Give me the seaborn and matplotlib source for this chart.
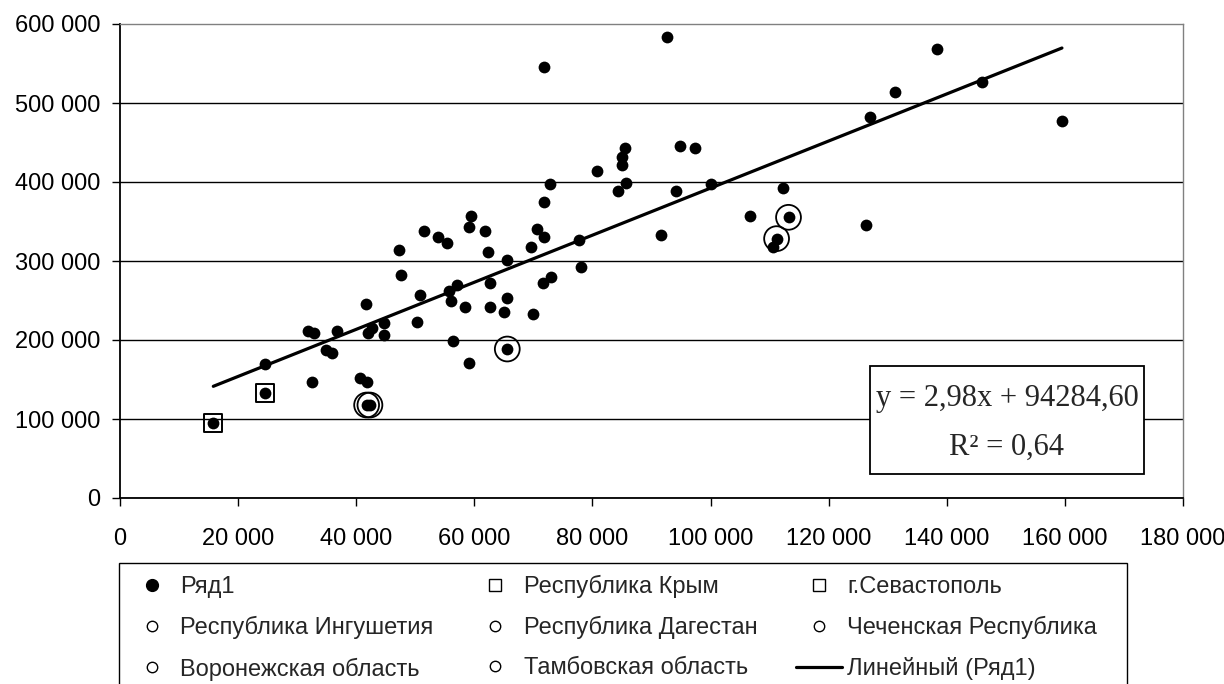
import numpy as np
import pandas as pd
import matplotlib
matplotlib.use("Agg")
import matplotlib.pyplot as plt
import seaborn as sns
from matplotlib.lines import Line2D
from matplotlib.patches import Rectangle
from matplotlib.ticker import FuncFormatter

# ---------------- data ----------------
row1_x = [15800, 24600, 24600, 31830, 32850, 32510, 34880, 35900, 36790, 40640,
          41770, 41650, 41990, 42670, 44700, 44700, 41760, 42320, 47300, 47640,
          50220, 50800, 51470, 53840, 55420, 55760, 56100, 56440, 57110, 58480,
          59020, 59040, 59380, 61740, 62310, 62650, 62650, 65020, 65580, 65580,
          65580, 69530, 69870, 70550, 71550, 71790, 71790, 71790, 72800, 72910,
          77770, 78000, 80700, 84320, 85000, 85000, 85560, 85670, 91550, 92560,
          94140, 94820, 97410, 100000, 106670, 110500, 111180, 112190, 113200, 126310,
          126990, 131160, 138380, 145950, 159500]
row1_y = [95300, 132500, 169200, 211000, 208500, 146800, 187300, 183900, 211400, 152300,
          146800, 245200, 208500, 215600, 221100, 205900, 117700, 117700, 313900, 281900,
          223200, 257400, 338400, 330400, 323200, 262400, 250000, 198300, 269600, 242200,
          171300, 342600, 357000, 338400, 311000, 271700, 242200, 235400, 253600, 301700,
          188600, 318100, 232900, 340100, 271700, 330400, 374700, 546000, 397000, 279400,
          326200, 292000, 414000, 389000, 421100, 432000, 443400, 399200, 332900, 583100,
          389000, 446000, 443400, 397000, 357400, 317300, 328300, 392000, 355300, 345200,
          482700, 514300, 567900, 527000, 477600]

crimea_x, crimea_y = [24600], [132500]
sevastopol_x, sevastopol_y = [15800], [95300]
ingush_x, ingush_y = [41760], [117700]
dagestan_x, dagestan_y = [65580], [188600]
chechnya_x, chechnya_y = [42320], [117700]
voronezh_x, voronezh_y = [111180], [328300]
tambov_x, tambov_y = [113200], [355300]

trend_slope = 2.98
trend_intercept = 94284.60
trend_r2 = 0.64

x_ticks = [0, 20000, 40000, 60000, 80000, 100000, 120000, 140000, 160000, 180000]
y_ticks = [0, 100000, 200000, 300000, 400000, 500000, 600000]

labels = {
    "row1": "Ряд1",
    "crimea": "Республика Крым",
    "sevastopol": "г.Севастополь",
    "ingush": "Республика Ингушетия",
    "dagestan": "Республика Дагестан",
    "chechnya": "Чеченская Республика",
    "voronezh": "Воронежская область",
    "tambov": "Тамбовская область",
    "trend": "Линейный (Ряд1)",
}

# ---------------- style ----------------
sns.set_theme(style="white")
plt.rcParams["font.family"] = ["Liberation Sans", "DejaVu Sans"]

W, H = 1224, 684
fig = plt.figure(figsize=(W / 100, H / 100), dpi=100)
ax = fig.add_axes([120 / W, 1 - 498 / H, 1063 / W, 474 / H])

df_main = pd.DataFrame({"x": row1_x, "y": row1_y})

# trend line over the data range
tx = np.array([min(row1_x), max(row1_x)], dtype=float)
ty = trend_slope * tx + trend_intercept
sns.lineplot(x=tx, y=ty, ax=ax, color="black", linewidth=2.3, zorder=3)

sns.scatterplot(data=df_main, x="x", y="y", ax=ax, color="black", s=72,
                linewidth=0, zorder=4)

for xs, ys in [(crimea_x, crimea_y), (sevastopol_x, sevastopol_y)]:
    sns.scatterplot(x=xs, y=ys, ax=ax, marker="s", s=165, facecolor="none",
                    edgecolor="black", linewidth=1.4, zorder=5)
for xs, ys in [(ingush_x, ingush_y), (dagestan_x, dagestan_y), (chechnya_x, chechnya_y),
               (voronezh_x, voronezh_y), (tambov_x, tambov_y)]:
    sns.scatterplot(x=xs, y=ys, ax=ax, marker="o", s=320, facecolor="none",
                    edgecolor="black", linewidth=1.3, zorder=5)

ax.set_xlim(0, 180000)
ax.set_ylim(0, 600000)
ax.set_xticks(x_ticks)
ax.set_yticks(y_ticks)
fmt = FuncFormatter(lambda v, p: f"{int(round(v)):,}".replace(",", " "))
ax.xaxis.set_major_formatter(fmt)
ax.yaxis.set_major_formatter(fmt)
ax.set_xlabel("")
ax.set_ylabel("")

ax.yaxis.grid(True, color="black", linewidth=1.0)
ax.xaxis.grid(False)
ax.set_axisbelow(True)
glines = ax.get_ygridlines()
glines[-1].set_visible(False)

for side in ["top", "right"]:
    ax.spines[side].set_color("#808080")
    ax.spines[side].set_linewidth(1.0)
for side in ["left", "bottom"]:
    ax.spines[side].set_color("black")
    ax.spines[side].set_linewidth(1.3)

ax.tick_params(axis="both", direction="out", length=5.8, width=1.0, color="black",
               labelsize=17, labelcolor="black")
ax.tick_params(axis="y", pad=8.5, left=True)
ax.tick_params(axis="x", pad=15.5, bottom=True)

# equation box
ax.add_patch(Rectangle((0.7056, 0.0506), 0.2577, 0.2278, transform=ax.transAxes,
                       facecolor="white", edgecolor="black", linewidth=1.3,
                       zorder=6, clip_on=False))
eq1 = f"y = {trend_slope:.2f}x + {trend_intercept:.2f}".replace(".", ",")
eq2 = f"R² = {trend_r2:.2f}".replace(".", ",")
ax.text(0.8344, 0.1941, eq1, transform=ax.transAxes, ha="center", va="baseline",
        fontsize=22, family=["Liberation Serif", "DejaVu Serif"], zorder=7)
ax.text(0.8344, 0.0907, eq2, transform=ax.transAxes, ha="center", va="baseline",
        fontsize=22, family=["Liberation Serif", "DejaVu Serif"], zorder=7)

# legend
def mk(marker, size, filled=True):
    return Line2D([], [], linestyle="none", marker=marker, markersize=size,
                  markerfacecolor="black" if filled else "white",
                  markeredgecolor="black", markeredgewidth=1.0)

h_row1 = mk("o", 8.5)
h_sq = lambda: mk("s", 8.5, False)
h_ci = lambda: mk("o", 7.5, False)
h_line = Line2D([], [], color="black", linewidth=2.3)

handles = [h_row1, h_ci(), h_ci(),
           h_sq(), h_ci(), h_ci(),
           h_sq(), h_ci(), h_line]
leg_labels = [labels["row1"], labels["ingush"], labels["voronezh"],
              labels["crimea"], labels["dagestan"], labels["tambov"],
              labels["sevastopol"], labels["chechnya"], labels["trend"]]

fs = 17
bp = 0.5
bp_px = bp * fs * 100 / 72
leg = fig.legend(handles, leg_labels, loc="upper left",
                 bbox_to_anchor=((129 - bp_px) / W, 1 - 563 / H),
                 bbox_transform=fig.transFigure, ncol=3,
                 fontsize=fs, frameon=False, borderpad=bp, borderaxespad=0.0,
                 handlelength=1.95, handletextpad=0.22, labelspacing=0.77,
                 columnspacing=1.65)

# legend frame (Excel style: fixed width box, bottom cut by the image edge)
fig.add_artist(Rectangle((119 / W, -0.05), 1008 / W, (1 - 563 / H) + 0.05,
                         transform=fig.transFigure, facecolor="none",
                         edgecolor="black", linewidth=1.0, zorder=10))

fig.savefig("out.png", dpi=100)
